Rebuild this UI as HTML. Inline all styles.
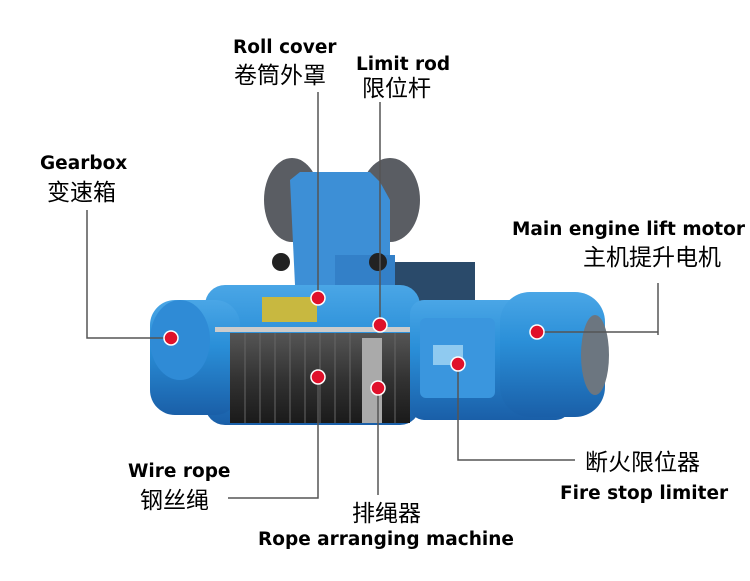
<!DOCTYPE html>
<html><head><meta charset="utf-8"><style>
body{margin:0;background:#fff}
svg{display:block}
.b{font-family:"DejaVu Sans","Liberation Sans",sans-serif;font-weight:bold;font-size:18.5px;fill:#000}
.c{font-family:"Liberation Sans","Noto Sans CJK SC",sans-serif;font-size:23px;fill:#000}
</style></head><body>
<svg width="750" height="581" viewBox="0 0 750 581" xmlns="http://www.w3.org/2000/svg">
<defs>
<linearGradient id="bl" x1="0" y1="0" x2="0" y2="1">
<stop offset="0" stop-color="#4aa6e6"/><stop offset="0.4" stop-color="#2a8fd8"/><stop offset="1" stop-color="#1a5fa8"/></linearGradient>
<linearGradient id="dr" x1="0" y1="0" x2="0" y2="1">
<stop offset="0" stop-color="#555"/><stop offset="0.5" stop-color="#333"/><stop offset="1" stop-color="#1a1a1a"/></linearGradient>
</defs>
<ellipse cx="292" cy="200" rx="28" ry="42" fill="#5a5d63"/>
<ellipse cx="390" cy="200" rx="30" ry="42" fill="#5a5d63"/>
<path d="M290 180 L300 172 L370 172 L380 182 L390 200 L390 285 L295 285 Z" fill="#3d8fd6"/>
<rect x="335" y="255" width="60" height="35" fill="#3380c8"/>
<circle cx="281" cy="262" r="9" fill="#222"/>
<circle cx="378" cy="262" r="9" fill="#222"/>
<rect x="395" y="262" width="80" height="40" fill="#2a4a6a"/>
<rect x="205" y="285" width="215" height="140" rx="20" fill="url(#bl)"/>
<rect x="150" y="300" width="90" height="115" rx="25" fill="url(#bl)"/>
<ellipse cx="180" cy="340" rx="30" ry="40" fill="#2f8bd6"/>
<rect x="230" y="333" width="180" height="90" fill="url(#dr)"/>
<g stroke="#666" stroke-width="1">
<line x1="245" y1="333" x2="245" y2="423"/><line x1="260" y1="333" x2="260" y2="423"/><line x1="275" y1="333" x2="275" y2="423"/><line x1="290" y1="333" x2="290" y2="423"/><line x1="305" y1="333" x2="305" y2="423"/><line x1="320" y1="333" x2="320" y2="423"/><line x1="335" y1="333" x2="335" y2="423"/><line x1="350" y1="333" x2="350" y2="423"/><line x1="395" y1="333" x2="395" y2="423"/>
</g>
<rect x="362" y="338" width="20" height="85" fill="#aaa"/>
<rect x="215" y="327" width="200" height="5" fill="#ccc"/>
<rect x="262" y="297" width="55" height="25" fill="#c8b840"/>
<rect x="410" y="300" width="160" height="120" rx="14" fill="url(#bl)"/>
<rect x="420" y="318" width="75" height="80" rx="6" fill="#3a96de"/>
<rect x="433" y="345" width="30" height="20" fill="#8fcaf0"/>
<rect x="500" y="292" width="105" height="125" rx="30" fill="url(#bl)"/>
<ellipse cx="595" cy="355" rx="14" ry="40" fill="#6c7680"/>
<g stroke="#555" stroke-width="1.5" fill="none">
<polyline points="87,210 87,338 171,338"/>
<line x1="318" y1="92" x2="318" y2="298"/>
<line x1="380" y1="102" x2="380" y2="325"/>
<polyline points="537,332 658,332"/><line x1="658" y1="283" x2="658" y2="335"/>
<polyline points="458,364 458,460 575,460"/>
<polyline points="318,377 318,498 228,498"/>
<line x1="378" y1="388" x2="378" y2="495"/>
</g>
<g fill="#e0102a" stroke="#fff" stroke-width="1.5">
<circle cx="171" cy="338" r="7"/><circle cx="318" cy="298" r="7"/><circle cx="380" cy="325" r="7"/>
<circle cx="537" cy="332" r="7"/><circle cx="458" cy="364" r="7"/><circle cx="318" cy="377" r="7"/><circle cx="378" cy="388" r="7"/>
</g>
<text class="b" x="40" y="169">Gearbox</text>
<text class="c" x="47" y="200">变速箱</text>
<text class="b" x="233" y="53">Roll cover</text>
<text class="c" x="234" y="83">卷筒外罩</text>
<text class="b" x="356" y="70">Limit rod</text>
<text class="c" x="362" y="96">限位杆</text>
<text class="b" x="512" y="235">Main engine lift motor</text>
<text class="c" x="583" y="265">主机提升电机</text>
<text class="c" x="585" y="470">断火限位器</text>
<text class="b" x="560" y="499">Fire stop limiter</text>
<text class="b" x="128" y="477">Wire rope</text>
<text class="c" x="140" y="508">钢丝绳</text>
<text class="c" x="352" y="521">排绳器</text>
<text class="b" x="258" y="545">Rope arranging machine</text>
</svg>
</body></html>
